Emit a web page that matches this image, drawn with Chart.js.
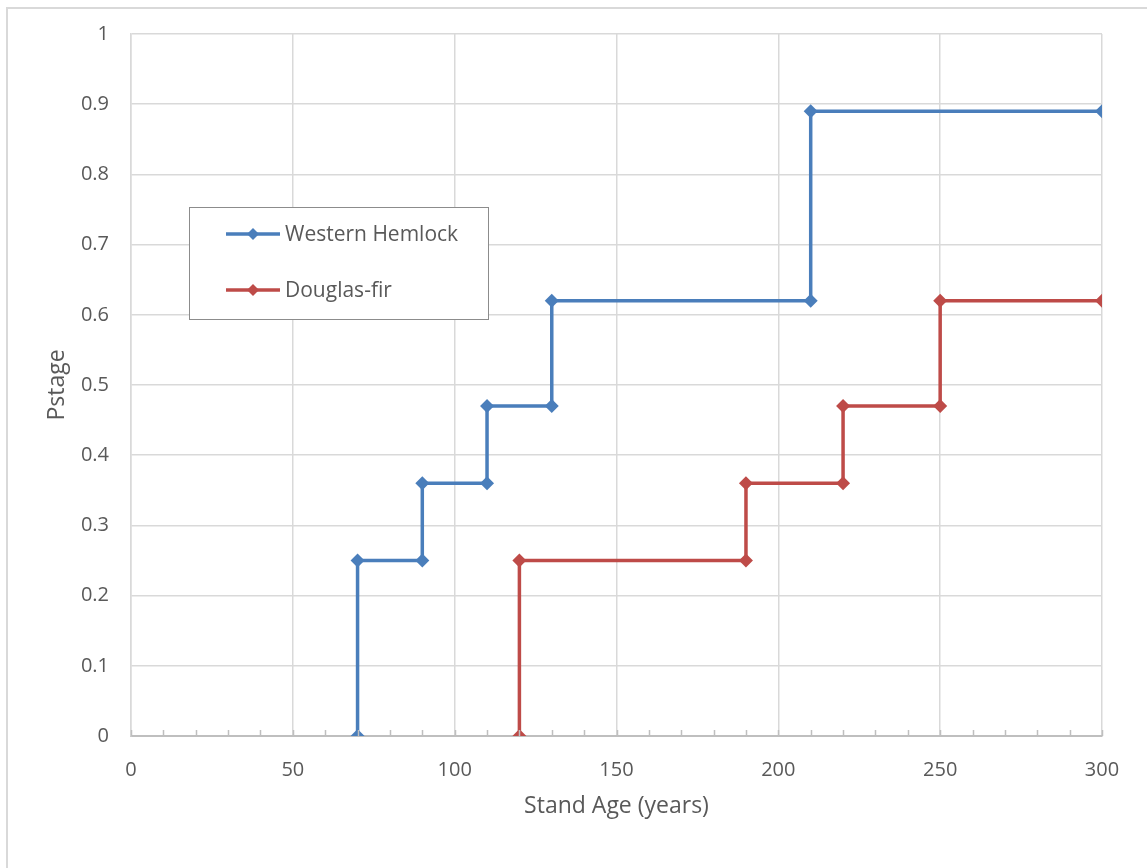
<!DOCTYPE html>
<html>
<head>
<meta charset="utf-8">
<script src="https://cdn.jsdelivr.net/npm/chart.js@4.4.1/dist/chart.umd.min.js"></script>
<style>
    html, body { margin: 0; padding: 0; background: #fff; }
    #wrap { position: relative; width: 1147px; height: 868px; overflow: hidden; }
    #frame { position: absolute; left: 6px; top: 7px; width: 1200px; height: 900px;
             border-left: 2px solid #d9d9d9; border-top: 2px solid #d9d9d9; box-sizing: border-box; }
    canvas { position: absolute; left: 0; top: 0; }
</style>
</head>
<body>
<div id="wrap">
    <div id="frame"></div>
    <canvas id="chart" width="1147" height="868"></canvas>
</div>
<script>
// --- Data ---
const hemlockAge = [70, 70, 90, 90, 110, 110, 130, 130, 210, 210, 300];
const hemlockP   = [0, 0.25, 0.25, 0.36, 0.36, 0.47, 0.47, 0.62, 0.62, 0.89, 0.89];
const firAge     = [120, 120, 190, 190, 220, 220, 250, 250, 300];
const firP       = [0, 0.25, 0.25, 0.36, 0.36, 0.47, 0.47, 0.62, 0.62];
const seriesNames = ['Western Hemlock', 'Douglas-fir'];
const xMinorStep = 10;

const textColor = '#595959';
const fontFamily = "'Open Sans', 'DejaVu Sans', sans-serif";

function toPoints(xs, ys) {
    return xs.map((x, i) => ({ x: x, y: ys[i] }));
}

// --- Plugins ---
const minorTicks = {
    id: 'minorTicks',
    afterDatasetsDraw(chart) {
        const x = chart.scales.x;
        const ctx = chart.ctx;
        const yPix = chart.chartArea.bottom;
        ctx.save();
        ctx.strokeStyle = '#bfbfbf';
        ctx.lineWidth = 1.5;
        for (let v = x.min; v <= x.max; v += xMinorStep) {
            const px = Math.round(x.getPixelForValue(v)) + 0.5;
            ctx.beginPath();
            ctx.moveTo(px, yPix);
            ctx.lineTo(px, yPix - 6);
            ctx.stroke();
        }
        ctx.restore();
    }
};

const boxLegend = {
    id: 'boxLegend',
    afterDraw(chart) {
        const ctx = chart.ctx;
        const box = { left: 189.5, top: 207.5, w: 299, h: 112 };
        ctx.save();
        ctx.fillStyle = '#fff';
        ctx.fillRect(box.left, box.top, box.w, box.h);
        ctx.strokeStyle = '#8c8c8c';
        ctx.lineWidth = 1;
        ctx.strokeRect(box.left, box.top, box.w, box.h);
        chart.data.datasets.forEach((ds, i) => {
            const y = 234 + i * 56;
            ctx.strokeStyle = ds.borderColor;
            ctx.lineWidth = 3.5;
            ctx.beginPath();
            ctx.moveTo(226, y);
            ctx.lineTo(280, y);
            ctx.stroke();
            ctx.fillStyle = ds.borderColor;
            ctx.beginPath();
            ctx.moveTo(253, y - 6);
            ctx.lineTo(259, y);
            ctx.lineTo(253, y + 6);
            ctx.lineTo(247, y);
            ctx.closePath();
            ctx.fill();
            ctx.fillStyle = textColor;
            ctx.font = '21px ' + fontFamily;
            ctx.textBaseline = 'middle';
            ctx.fillText(ds.label, 285, y + 1);
        });
        ctx.restore();
    }
};

// --- Chart ---
const ctx = document.getElementById('chart').getContext('2d');
new Chart(ctx, {
    type: 'line',
    data: {
        datasets: [{
            label: seriesNames[0],
            data: toPoints(hemlockAge, hemlockP),
            borderColor: '#4a7ebb',
            backgroundColor: '#4a7ebb',
            borderWidth: 3.5,
            pointStyle: 'rectRot',
            pointRadius: 7,
            pointBorderWidth: 0,
            tension: 0
        }, {
            label: seriesNames[1],
            data: toPoints(firAge, firP),
            borderColor: '#be4b48',
            backgroundColor: '#be4b48',
            borderWidth: 3.5,
            pointStyle: 'rectRot',
            pointRadius: 7,
            pointBorderWidth: 0,
            tension: 0
        }]
    },
    options: {
        responsive: false,
        animation: false,
        layout: { padding: { top: 33, right: 45, left: 0, bottom: 0 } },
        plugins: { legend: { display: false }, tooltip: { enabled: false } },
        scales: {
            x: {
                type: 'linear',
                min: 0, max: 300,
                afterFit(scale) { scale.height = 132; },
                ticks: { stepSize: 50, color: textColor, padding: 22, font: { size: 20, family: fontFamily } },
                grid: { color: '#d9d9d9', lineWidth: 1.5, drawTicks: false },
                border: { color: '#bfbfbf', width: 2 },
                title: { display: true, text: 'Stand Age (years)', color: textColor,
                         font: { size: 23, family: fontFamily }, padding: { top: 0, bottom: 48 } }
            },
            y: {
                min: 0, max: 1,
                afterFit(scale) { scale.width = 131; },
                ticks: { stepSize: 0.1, color: textColor, padding: 22, font: { size: 20, family: fontFamily },
                         callback: v => String(Math.round(v * 10) / 10) },
                grid: { color: '#d9d9d9', lineWidth: 1.5, drawTicks: false },
                border: { color: '#d9d9d9', width: 1.5 },
                title: { display: true, text: 'Pstage', color: textColor,
                         font: { size: 23, family: fontFamily }, padding: { top: 44, bottom: 0 } }
            }
        }
    },
    plugins: [minorTicks, boxLegend]
});
</script>
</body>
</html>
